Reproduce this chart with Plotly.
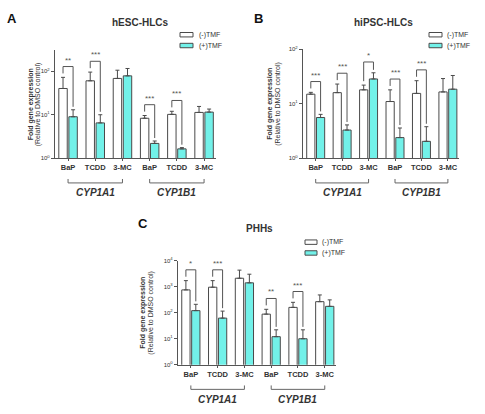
import numpy as np
import plotly.graph_objects as go

# ---------------- data ----------------
categories = ["BaP", "TCDD", "3-MC", "BaP", "TCDD", "3-MC"]
genes = ["CYP1A1", "CYP1B1"]
series_names = ["(-)TMF", "(+)TMF"]

# hESC-HLCs
A_minus = [40, 60, 68, 8.3, 10.2, 11.3]
A_minus_top = [72, 95, 105, 9.6, 12.0, 15.5]
A_plus = [9.0, 6.5, 78, 2.2, 1.65, 11.5]
A_plus_top = [13, 10, 115, 2.5, 1.76, 13.5]
A_sig = ["**", "***", "", "***", "***", ""]

# hiPSC-HLCs
B_minus = [15, 16, 18, 11, 15.5, 16.5]
B_minus_top = [16.2, 23, 22, 18, 26.5, 29]
B_plus = [5.6, 3.3, 28.5, 2.4, 2.05, 18.5]
B_plus_top = [6.4, 4.1, 37, 3.6, 3.8, 33]
B_sig = ["***", "***", "*", "***", "***", ""]

# PHHs
C_minus = [750, 950, 2100, 88, 160, 265]
C_minus_top = [1700, 1700, 4300, 135, 250, 480]
C_plus = [120, 62, 1400, 12, 10, 175]
C_plus_top = [210, 115, 3000, 22, 22, 310]
C_sig = ["*", "***", "", "**", "***", ""]

titles = ["hESC-HLCs", "hiPSC-HLCs", "PHHs"]
letters = ["A", "B", "C"]

# ---------------- style / layout ----------------
W, H = 485, 414
FONT = "Liberation Sans, Arial, sans-serif"
CYAN = "#72F1E9"
EDGE = "#4a4a4a"
TXT = "#333333"
BAR_W = 0.31
OFF_M = -0.34
OFF_P = 0.03
XR = [-0.48, 5.42]

def xp(px):
    return px / W

def yp(py):
    return 1 - py / H

panels = [
    dict(minus=A_minus, mtop=A_minus_top, plus=A_plus, ptop=A_plus_top, sig=A_sig,
         xd=(55, 215.5), yd=(47, 157), yr=[0, 2.48], tv=[1, 10, 100],
         title_xy=(140, 19), letter_xy=(12, 15), ytl=(31, 38), lab_y=(182, 178, 192),
         leg=(180, 193, 197, 29)),
    dict(minus=B_minus, mtop=B_minus_top, plus=B_plus, ptop=B_plus_top, sig=B_sig,
         xd=(303, 459), yd=(46, 157), yr=[0, 2], tv=[1, 10, 100],
         title_xy=(383, 19), letter_xy=(258, 15), ytl=(270, 278), lab_y=(182, 178, 192),
         leg=(429, 442, 445, 29)),
    dict(minus=C_minus, mtop=C_minus_top, plus=C_plus, ptop=C_plus_top, sig=C_sig,
         xd=(178, 336), yd=(261, 367), yr=[0, 4], tv=[1, 10, 100, 1000, 10000],
         title_xy=(259, 228), letter_xy=(143, 223), ytl=(143, 151), lab_y=(392, 388, 402),
         leg=(305, 317, 320, 240)),
]

fig = go.Figure()
shapes = []
annotations = []
layout_axes = {}
xs = np.arange(len(categories))


def note(x, y, text, size, color=TXT, xanchor="center", angle=0, xref="paper", yref="paper", yanchor="middle"):
    annotations.append(dict(x=x, y=y, xref=xref, yref=yref, text=text, showarrow=False,
                            xanchor=xanchor, yanchor=yanchor, textangle=angle,
                            font=dict(family=FONT, size=size, color=color)))


for i, p in enumerate(panels):
    n = "" if i == 0 else str(i + 1)
    xa, ya = "x" + n, "y" + n
    mtop = np.array(p["mtop"], float)
    ptop = np.array(p["ptop"], float)
    mv = np.array(p["minus"], float)
    pv = np.array(p["plus"], float)

    fig.add_trace(go.Bar(
        x=xs, y=mv, width=BAR_W, offset=OFF_M, xaxis=xa, yaxis=ya,
        name=series_names[0], showlegend=False,
        marker=dict(color="white", line=dict(color=EDGE, width=1)),
        error_y=dict(type="data", symmetric=False, array=mtop - mv, arrayminus=[0] * 6,
                     color=EDGE, thickness=1, width=2)))
    fig.add_trace(go.Bar(
        x=xs, y=pv, width=BAR_W, offset=OFF_P, xaxis=xa, yaxis=ya,
        name=series_names[1], showlegend=False,
        marker=dict(color=CYAN, line=dict(color=EDGE, width=1)),
        error_y=dict(type="data", symmetric=False, array=ptop - pv, arrayminus=[0] * 6,
                     color=EDGE, thickness=1, width=2)))

    ppd = (p["yd"][1] - p["yd"][0]) / (p["yr"][1] - p["yr"][0])  # pixels per decade
    layout_axes["xaxis" + n] = dict(
        domain=[xp(p["xd"][0]), xp(p["xd"][1])], range=XR, anchor=ya,
        showline=True, linecolor="#555", linewidth=1.2, showgrid=False, zeroline=False,
        tickvals=list(xs), ticktext=["<b>%s</b>" % c for c in categories],
        ticks="outside", ticklen=2, tickcolor="#555",
        tickfont=dict(family=FONT, size=7.5, color=TXT))
    layout_axes["yaxis" + n] = dict(
        domain=[yp(p["yd"][1]), yp(p["yd"][0])], type="log", range=p["yr"], anchor=xa,
        showline=True, linecolor="#555", linewidth=1.2, showgrid=False, zeroline=False,
        tickvals=p["tv"], ticktext=["10<sup>%d</sup>" % int(round(np.log10(v))) for v in p["tv"]],
        ticks="outside", ticklen=3, tickcolor="#555",
        tickfont=dict(family=FONT, size=6, color=TXT))

    # significance brackets
    xm = xs + OFF_M + BAR_W / 2
    xpl = xs + OFF_P + BAR_W / 2
    for k, s in enumerate(p["sig"]):
        if not s:
            continue
        top = np.log10(max(mtop[k], ptop[k])) + 11 / ppd
        lm = np.log10(mtop[k]) + 4 / ppd
        lp = np.log10(ptop[k]) + 3 / ppd
        fig.add_trace(go.Scatter(
            x=[xm[k], xm[k], xpl[k], xpl[k]], y=[10 ** lm, 10 ** top, 10 ** top, 10 ** lp],
            mode="lines", line=dict(color="#555", width=1), xaxis=xa, yaxis=ya,
            showlegend=False, hoverinfo="skip"))
        note(xs[k], top, s, 8, color="#555", xref=xa, yref=ya, yanchor="bottom")

    # gene brackets below axis
    ly, lt, gy = p["lab_y"]
    for g, (a, b) in enumerate([(0, 2), (3, 5)]):
        shapes.append(dict(type="path", xref=xa, yref="paper",
                           path="M %f,%f L %f,%f L %f,%f L %f,%f" % (a, yp(lt), a, yp(ly), b, yp(ly), b, yp(lt)),
                           line=dict(color="#666", width=1)))
        note((a + b) / 2, yp(gy), "<b><i>%s</i></b>" % genes[g], 10, xref=xa)

    # title & letter
    note(xp(p["title_xy"][0]), yp(p["title_xy"][1]), "<b>%s</b>" % titles[i], 10)
    note(xp(p["letter_xy"][0]), yp(p["letter_xy"][1]), "<b>%s</b>" % letters[i], 13, color="#111")
    # y titles
    yc = yp((p["yd"][0] + p["yd"][1]) / 2)
    note(xp(p["ytl"][0]), yc, "<b>Fold gene expression</b>", 7, angle=-90)
    note(xp(p["ytl"][1]), yc, "(Relative to DMSO control)", 7, angle=-90)

    # legend (manual)
    bx0, bx1, tx, by = p["leg"]
    for j, (fc, nm) in enumerate(zip(["white", CYAN], series_names)):
        y0 = by + j * 11
        shapes.append(dict(type="rect", xref="paper", yref="paper",
                           x0=xp(bx0), x1=xp(bx1), y0=yp(y0 + 4.5), y1=yp(y0),
                           fillcolor=fc, line=dict(color=EDGE, width=1)))
        note(xp(tx), yp(y0 + 2.3), nm, 7, xanchor="left")

fig.update_layout(
    width=W, height=H, margin=dict(l=0, r=0, t=0, b=0),
    paper_bgcolor="white", plot_bgcolor="white", barmode="overlay",
    showlegend=False, shapes=shapes, annotations=annotations,
    font=dict(family=FONT, color=TXT), **layout_axes)

fig.write_html("out.html", config={"displayModeBar": False},
               post_script="document.body.style.margin='0px';")
